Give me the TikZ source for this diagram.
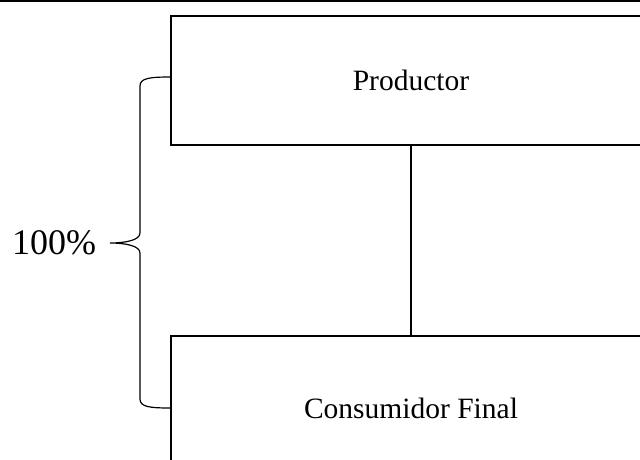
\documentclass[tikz,border=0pt]{standalone}
\usepackage{fontspec}
\setmainfont{Liberation Serif}
\begin{document}
\begin{tikzpicture}[x=1pt,y=-1pt,
  box/.style={draw,line width=1.6pt,minimum width=480pt,inner sep=0pt,font=\fontsize{29.5}{34}\selectfont},
  link/.style={line width=1.4pt},
  bracestyle/.style={line width=1.2pt}]
\useasboundingbox (0,0) rectangle (640,459);
\clip (0,0) rectangle (640,459);
\coordinate (tl) at (0,1);
\coordinate (tr) at (640,1);
\draw[line width=2pt] (tl) -- (tr);
\node[box,minimum height=129pt] (P) at (411,80.5) {Productor};
\node[box,minimum height=144pt] (C) at (411,408) {Consumidor Final};
\draw[link] (P.south) -- (C.north);
\node[font=\fontsize{36}{40}\selectfont,inner sep=0pt] (pct) at (54,243) {100\%};
\coordinate (bt) at (171,77);
\coordinate (bb) at (171,408);
\coordinate (tip) at (110,243);
\draw[bracestyle] (bt) .. controls (150,77) and (140,78) .. (140,86) -- (140,233)
  .. controls (140,240) and (126,243) .. (tip)
  .. controls (126,243) and (140,246) .. (140,253) -- (140,399)
  .. controls (140,407) and (150,408) .. (bb);
\end{tikzpicture}
\end{document}
